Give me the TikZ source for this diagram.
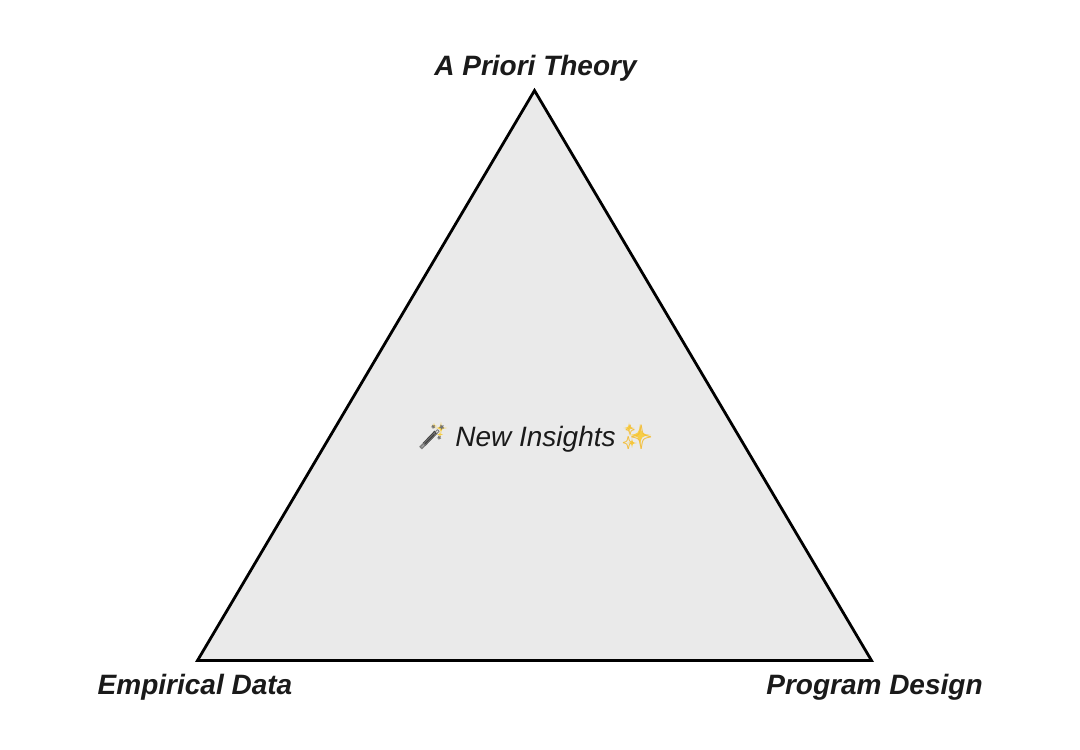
\documentclass[tikz,border=0pt]{standalone}
\usepackage{fontspec}
\setmainfont{Liberation Sans}
\newfontfamily\emojifont{Noto Emoji}
\definecolor{ink}{HTML}{1A1A1A}
\definecolor{fillgrey}{HTML}{EAEAEA}
\definecolor{spark}{HTML}{F7CE46}
\definecolor{sparkedge}{HTML}{F3BE3A}
\newcommand{\sparkstar}[4]{%
  \fill[#4] (#1,#2-#3) .. controls (#1+.12*#3,#2-.12*#3) .. (#1+#3,#2)
    .. controls (#1+.12*#3,#2+.12*#3) .. (#1,#2+#3)
    .. controls (#1-.12*#3,#2+.12*#3) .. (#1-#3,#2)
    .. controls (#1-.12*#3,#2-.12*#3) .. (#1,#2-#3) -- cycle;}
\tikzset{
  corner/.style={font=\fontsize{28pt}{32pt}\selectfont\bfseries\itshape,text=ink,inner sep=0pt,anchor=center},
  mid/.style={font=\fontsize{28pt}{32pt}\selectfont\itshape,text=ink,inner sep=0pt,anchor=center},
  emo/.style={font=\emojifont\fontsize{24pt}{30pt}\selectfont,inner sep=0pt,anchor=center},
}
\begin{document}
\begin{tikzpicture}[x=1pt,y=-1pt]
\useasboundingbox (0,0) rectangle (1080,750);
\coordinate (t) at (534.5,90.5);
\coordinate (l) at (197.5,660.5);
\coordinate (r) at (871.5,660.5);
\draw[fill=fillgrey,draw=black,line width=2.8pt,line join=miter] (t) -- (r) -- (l) -- cycle;
\node[corner] (top) at (535.5,68) {A Priori Theory};
\node[corner] (emp) at (195,687) {Empirical Data};
\node[corner] (prog) at (874.5,687) {Program Design};
\node[mid] (ins) at (535.5,439) {New Insights};
% wand underlay
\draw[line width=4pt,color=black!75] (424,444.5) -- (436,432);
\draw[line width=4pt,color=black!35] (420.5,448) -- (424,444.5);
\draw[line width=4pt,color=black!10] (436,432) -- (438,430);
\sparkstar{441}{428}{6}{spark}
\sparkstar{434}{426}{3}{spark}
\sparkstar{440}{434.5}{3}{spark}
\node[emo,text=black!55] (wand) at (432,437) {🪄};
% sparkle underlay
\sparkstar{640}{435}{11}{spark}
\sparkstar{629}{428}{5.5}{spark}
\sparkstar{632}{443}{5}{spark}
\node[emo,text=sparkedge] (sparkle) at (637,437) {✨};
\end{tikzpicture}
\end{document}
